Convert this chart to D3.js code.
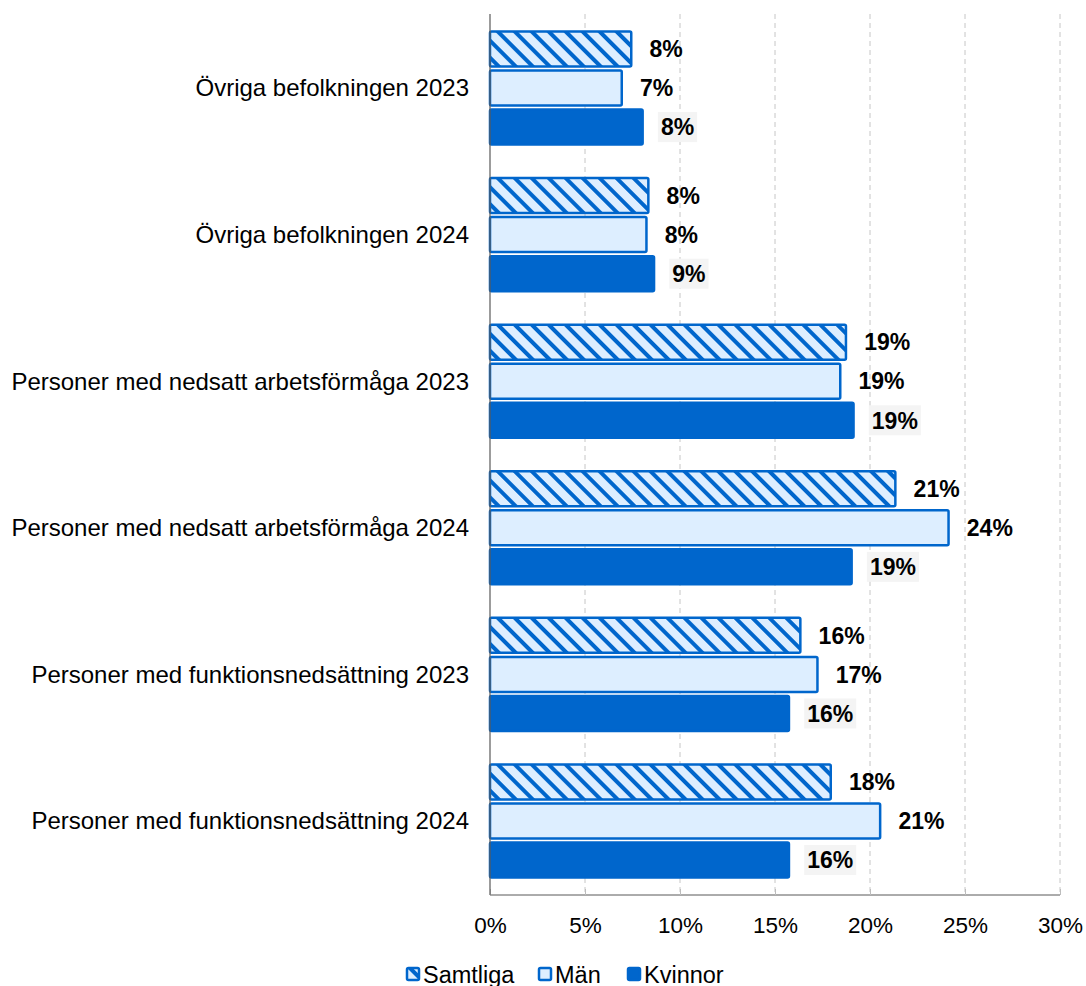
<!DOCTYPE html>
<html>
<head>
<script src="https://d3js.org/d3.v7.min.js"></script>
<style>
  body { margin: 0; background: #fff; }
  text { font-family: "Liberation Sans", Arial, sans-serif; }
</style>
</head>
<body>
<svg width="1086" height="986"></svg>
<script>

const categories = [
  "Övriga befolkningen 2023",
  "Övriga befolkningen 2024",
  "Personer med nedsatt arbetsförmåga 2023",
  "Personer med nedsatt arbetsförmåga 2024",
  "Personer med funktionsnedsättning 2023",
  "Personer med funktionsnedsättning 2024"
];
const series = ["Samtliga", "Män", "Kvinnor"];
const samtliga = [7.5, 8.4, 18.8, 21.4, 16.4, 18.0];
const man = [7.0, 8.3, 18.5, 24.2, 17.3, 20.6];
const kvinnor = [8.1, 8.7, 19.2, 19.1, 15.8, 15.8];
const xTicks = [0, 5, 10, 15, 20, 25, 30];

const values = { "Samtliga": samtliga, "Män": man, "Kvinnor": kvinnor };

var svg = d3.select("svg"),
    pLeft = 490, pRight = 1060, pTop = 14, pBottom = 895;

var defs = svg.append("defs");
var pat = defs.append("pattern")
    .attr("id", "hatch")
    .attr("patternUnits", "userSpaceOnUse")
    .attr("width", 12).attr("height", 12)
    .attr("patternTransform", "rotate(-45)");
pat.append("rect").attr("width", 12).attr("height", 12).attr("fill", "#ddeeff");
pat.append("rect").attr("x", 0).attr("width", 4).attr("height", 12).attr("fill", "#0066cc");

var x = d3.scaleLinear().domain([0, 30]).range([pLeft, pRight]);
var y0 = d3.scaleBand().domain(categories).range([pTop, pBottom]).paddingInner(0.19).paddingOuter(0.1);
var y1 = d3.scaleBand().domain(series).range([0, y0.bandwidth()]).padding(0.04);

// gridlines
svg.append("g").selectAll("line")
  .data(xTicks.slice(1))
  .enter().append("line")
    .attr("x1", function(d) { return x(d); })
    .attr("x2", function(d) { return x(d); })
    .attr("y1", pTop).attr("y2", pBottom)
    .attr("stroke", "#c6c6c6")
    .attr("stroke-dasharray", "5,4");

var fills = { "Samtliga": "url(#hatch)", "Män": "#ddeeff", "Kvinnor": "#0066cc" };

var g = svg.selectAll(".grp")
  .data(categories)
  .enter().append("g")
    .attr("class", "grp")
    .attr("transform", function(d) { return "translate(0," + y0(d) + ")"; });

g.selectAll("rect")
  .data(function(d, i) { return series.map(function(s) { return { s: s, v: values[s][i] }; }); })
  .enter().append("rect")
    .attr("x", x(0))
    .attr("y", function(d) { return y1(d.s) + 1.25; })
    .attr("width", function(d) { return x(d.v) - x(0) - 1.25; })
    .attr("height", y1.bandwidth() - 2.5)
    .attr("rx", 1.5)
    .attr("fill", function(d) { return fills[d.s]; })
    .attr("stroke", "#0066cc")
    .attr("stroke-width", 2.5);

// value labels
var lab = g.selectAll(".lab")
  .data(function(d, i) { return series.map(function(s) { return { s: s, v: values[s][i] }; }); })
  .enter().append("g")
    .attr("class", "lab")
    .attr("transform", function(d) { return "translate(" + (x(d.v) + 17) + "," + (y1(d.s) + y1.bandwidth() / 2) + ")"; });

lab.append("text")
    .attr("dy", "0.36em")
    .attr("font-size", 23)
    .attr("font-weight", "bold")
    .attr("fill", "#000")
    .text(function(d) { return Math.round(d.v) + "%"; });

lab.filter(function(d) { return d.s === "Kvinnor"; })
  .each(function() {
    var t = d3.select(this).select("text"), b = t.node().getBBox();
    d3.select(this).insert("rect", "text")
      .attr("x", b.x - 3).attr("y", -15)
      .attr("width", b.width + 6).attr("height", 30)
      .attr("fill", "#f4f4f4");
  });

// category labels
svg.append("g").selectAll("text")
  .data(categories)
  .enter().append("text")
    .attr("x", pLeft - 21)
    .attr("y", function(d) { return y0(d) + y0.bandwidth() / 2; })
    .attr("dy", "0.35em")
    .attr("text-anchor", "end")
    .attr("font-size", 24)
    .attr("fill", "#000")
    .text(function(d) { return d; });

// axes
var xAxis = svg.append("g")
    .attr("transform", "translate(0," + pBottom + ")")
    .call(d3.axisBottom(x).tickValues(xTicks).tickSize(6).tickPadding(16).tickFormat(function(d) { return d + "%"; }));
xAxis.select(".domain").attr("stroke", "#595959").attr("d", "M" + pLeft + ",0H" + pRight);
xAxis.selectAll(".tick line").attr("stroke", "#bdbdbd").attr("y1", -6).attr("y2", 0);
xAxis.selectAll(".tick text").attr("font-size", 22.5).attr("fill", "#000").attr("font-family", "Liberation Sans, Arial, sans-serif");

svg.append("line")
    .attr("x1", pLeft).attr("x2", pLeft)
    .attr("y1", pTop).attr("y2", pBottom)
    .attr("stroke", "#595959").attr("stroke-width", 1.2);

// legend
var legendX = [406, 538, 627];
var leg = svg.append("g").selectAll("g")
  .data(series)
  .enter().append("g")
    .attr("transform", function(d, i) { return "translate(" + legendX[i] + ",967)"; });
leg.append("rect")
    .attr("x", 1).attr("y", 1)
    .attr("width", 12).attr("height", 12)
    .attr("rx", 1.5)
    .attr("fill", function(d) { return fills[d]; })
    .attr("stroke", "#0066cc").attr("stroke-width", 2.5);
leg.append("text")
    .attr("x", 17).attr("y", 8)
    .attr("dy", "0.35em")
    .attr("font-size", 23.5)
    .text(function(d) { return d; });

</script>
</body>
</html>
